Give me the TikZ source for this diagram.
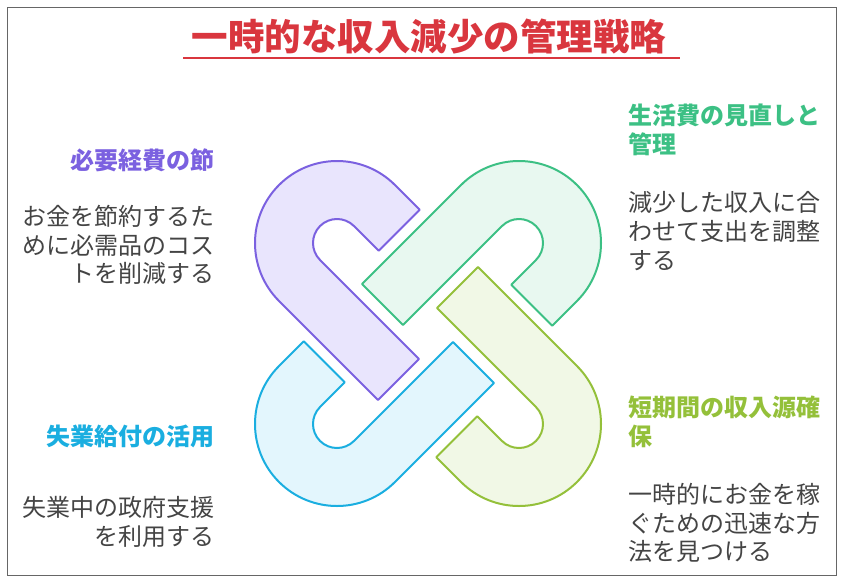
\documentclass[tikz,border=0pt]{standalone}
\usepackage{fontspec}
\setmainfont{Noto Sans CJK JP}
\usepackage{tikz}
\definecolor{ttlred}{HTML}{D9363E}
\definecolor{txtgray}{HTML}{444444}
\definecolor{purp}{HTML}{7B61E0}
\definecolor{purpf}{HTML}{E9E5FD}
\definecolor{grn}{HTML}{3CC084}
\definecolor{grnf}{HTML}{E8F8F0}
\definecolor{blu}{HTML}{1AAEE0}
\definecolor{bluf}{HTML}{E3F6FD}
\definecolor{ylw}{HTML}{94C03A}
\definecolor{ylwf}{HTML}{F1F8E6}
\newcommand{\hooklink}[4]{%
\begin{scope}[shift={#1},rotate=#2]
\draw[draw=#3,fill=#4,line width=2pt,line join=round]
 (35,-82) -- (0,-82) arc[start angle=-90,end angle=-270,radius=82]
 -- (140,82) -- (140,24) -- (0,24) arc[start angle=90,end angle=270,radius=24]
 -- (35,-24) -- cycle;
\end{scope}}
\begin{document}
\begin{tikzpicture}[x=1pt,y=-1pt,
  head/.style={font=\fontsize{24}{29}\selectfont\bfseries,inner sep=0pt},
  body/.style={font=\fontsize{24}{28.7}\selectfont,text=txtgray,inner sep=0pt}]
\useasboundingbox (0,0) rectangle (844,582);
\draw[gray!80!black,line width=1pt] (7,7) rectangle (836,575);
% title
\node[font=\fontsize{36.5}{40}\selectfont\bfseries,text=ttlred,inner sep=0pt] (title) at (429,37) {一時的な収入減少の管理戦略};
\draw[ttlred,line width=2pt] (183,58) -- (680,58);
% links
\hooklink{(337,243)}{-45}{purp}{purpf}
\hooklink{(519,243)}{-135}{grn}{grnf}
\hooklink{(337,424)}{45}{blu}{bluf}
\hooklink{(519,424)}{135}{ylw}{ylwf}
% left side
\node[head,text=purp,anchor=east] (costh) at (215,160) {必要経費の節};
\node[body,anchor=east,align=right] (costb) at (215,245) {お金を節約するた\\めに必需品のコス\\トを削減する};
\node[head,text=blu,anchor=east] (benh) at (215,436) {失業給付の活用};
\node[body,anchor=east,align=right] (benb) at (215,522) {失業中の政府支援\\を利用する};
% right side
\node[head,text=grn,anchor=west,align=left] (liveh) at (628,130) {生活費の見直しと\\管理};
\node[body,anchor=west,align=left] (liveb) at (628,231) {減少した収入に合\\わせて支出を調整\\する};
\node[head,text=ylw,anchor=west,align=left] (incoh) at (628,422) {短期間の収入源確\\保};
\node[body,anchor=west,align=left] (incob) at (628,523) {一時的にお金を稼\\ぐための迅速な方\\法を見つける};
\end{tikzpicture}
\end{document}
